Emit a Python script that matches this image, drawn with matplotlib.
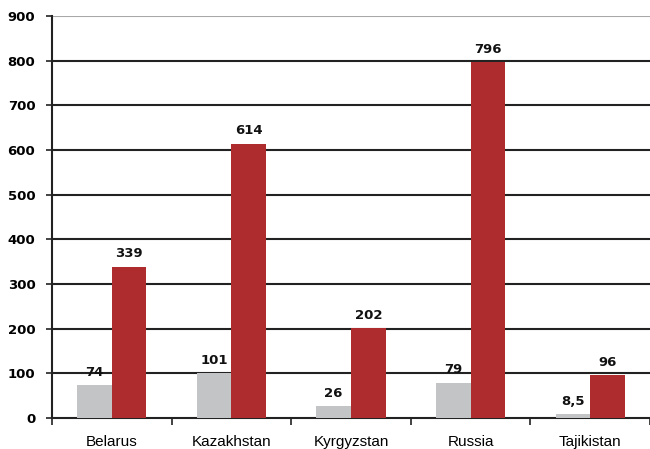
import matplotlib
matplotlib.use("Agg")
import matplotlib.pyplot as plt
import numpy as np

categories = ["Belarus", "Kazakhstan", "Kyrgyzstan", "Russia", "Tajikistan"]
series_gray = [74, 101, 26, 79, 8.5]
series_red = [339, 614, 202, 796, 96]
gray_labels = ["74", "101", "26", "79", "8,5"]
red_labels = ["339", "614", "202", "796", "96"]
yticks = [0, 100, 200, 300, 400, 500, 600, 700, 800, 900]

W, H = 650, 449
fig = plt.figure(figsize=(W / 100, H / 100), dpi=100)
ax = fig.add_axes([52 / W, (H - 418) / H, (W - 52) / W, (418 - 16) / H])

x = np.arange(len(categories))
bw = 0.29
num_font = dict(family=["DejaVu Sans"], weight="bold", size=9.5)

ax.bar(x - bw / 2, series_gray, width=bw, color="#c3c4c6", zorder=3)
ax.bar(x + bw / 2, series_red, width=bw, color="#ae2b2e", zorder=3)

for xi, v, s in zip(x, series_gray, gray_labels):
    ax.text(xi - bw / 2, v + 14, s, ha="center", va="bottom", fontdict=num_font, color="#111111")
for xi, v, s in zip(x, series_red, red_labels):
    ax.text(xi + bw / 2, v + 14, s, ha="center", va="bottom", fontdict=num_font, color="#111111")

ax.set_ylim(0, 900)
ax.set_xlim(-0.5, -0.5 + (W - 52) / 120.5)
ax.set_yticks(yticks)
ax.set_yticklabels([str(t) for t in yticks], fontdict=num_font)
for t in yticks[1:-1]:
    ax.axhline(t, color="#222222", lw=1.5, zorder=1)
ax.axhline(900, color="#a8a8a8", lw=1.5, zorder=1)

ax.set_xticks(np.arange(len(categories) + 1) - 0.5, minor=False)
ax.set_xticklabels([])
ax.set_xticks(x, minor=True)
ax.set_xticklabels(categories, minor=True, family=["Liberation Sans", "DejaVu Sans"], fontsize=11)
ax.tick_params(axis="x", which="minor", length=0, pad=12)
ax.tick_params(axis="x", which="major", length=5, width=1.2, direction="out", color="#222222")
ax.tick_params(axis="y", length=4, width=1.2, direction="out", pad=8, color="#222222")

for side in ["top", "right"]:
    ax.spines[side].set_visible(False)
ax.spines["left"].set_color("#222222")
ax.spines["left"].set_linewidth(1.5)
ax.spines["bottom"].set_color("#222222")
ax.spines["bottom"].set_linewidth(1.5)

fig.savefig("out.png", dpi=100)
